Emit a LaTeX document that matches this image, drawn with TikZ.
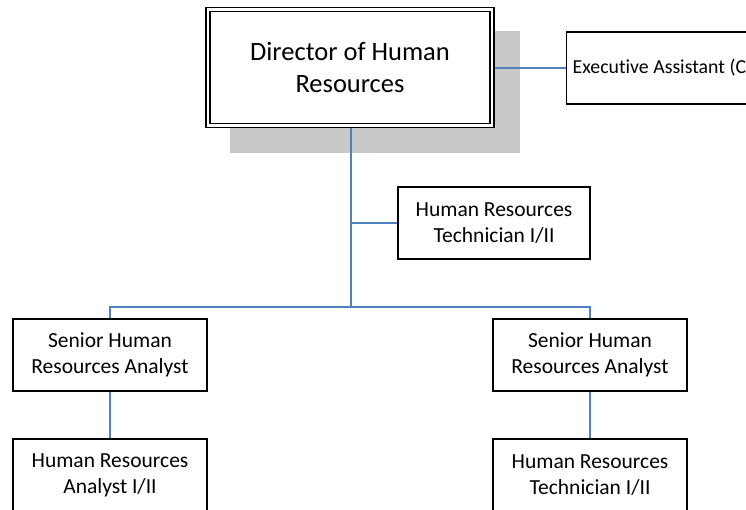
\documentclass[tikz,border=0pt]{standalone}
\usepackage{fontspec}
\setmainfont{Carlito}[Ligatures=NoCommon]
\pgfdeclarelayer{background}
\pgfsetlayers{background,main}
\definecolor{linkblue}{RGB}{79,129,189}
\definecolor{shadowgray}{RGB}{200,200,200}
\tikzset{
  box/.style={draw=black, fill=white, line width=1.4pt, rectangle, inner sep=0pt,
    minimum height=72pt, align=center, font=\fontsize{21.5}{26}\selectfont},
  link/.style={draw=linkblue, line width=2pt},
  trunk/.style={draw=linkblue, line width=2.5pt}
}
\begin{document}
\begin{tikzpicture}[x=1pt,y=-1pt]
\useasboundingbox (0,0) rectangle (746,510);
\clip (0,0) rectangle (746,510);
% nodes
\node[draw=black, fill=white, double, line width=1.4pt, double distance=2.6pt,
      minimum width=284pt, minimum height=116pt, inner sep=0pt, align=center,
      font=\fontsize{26.5}{32}\selectfont] (dir) at (350,67.5) {Director of Human\\Resources};
\node[box, anchor=west, minimum width=234pt, inner xsep=6pt, font=\fontsize{19.8}{24}\selectfont] (exec) at (566,68) {\makebox[222pt][l]{Executive Assistant (C}};
\node[box, minimum width=192pt] (tech) at (494,223) {Human Resources\\Technician I/II};
\node[box, minimum width=194pt] (sL) at (110,355) {Senior Human\\Resources Analyst};
\node[box, minimum width=194pt] (sR) at (590,355) {Senior Human\\Resources Analyst};
\node[box, minimum width=194pt] (cL) at (110,475) {Human Resources\\Analyst I/II};
\node[box, minimum width=194pt] (cR) at (590,475) {Human Resources\\Technician I/II};
\coordinate (bus) at (351,307);
\begin{pgfonlayer}{background}
  \fill[shadowgray] (230,31) rectangle (520,153);
  \draw[trunk] (dir.south -| bus) -- (bus);
  \draw[link] (exec.west -| dir.east) -- (exec.west);
  \draw[link] (tech.west) -- (tech.west -| bus);
  \draw[link] (sL.north) |- (bus) -| (sR.north);
  \draw[link] (sL.south) -- (cL.north);
  \draw[link] (sR.south) -- (cR.north);
\end{pgfonlayer}
\end{tikzpicture}
\end{document}
